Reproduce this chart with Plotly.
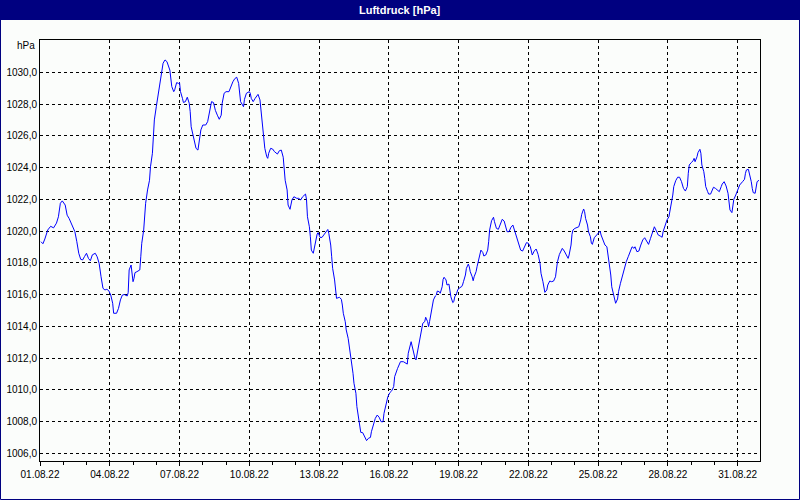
import pandas as pd
import plotly.graph_objects as go

# ---- data: hours since 01.08.2022 00:00 and air pressure [hPa] ----
h1 = [1, 3, 5, 8, 11, 14, 17, 19, 21, 23, 26, 28, 30, 32, 36, 38, 40, 42, 44, 46, 48, 50, 52, 54, 57, 59, 61, 63,
      65, 67, 69, 71, 73, 75, 76, 79, 81, 83, 85, 87, 90, 91, 92, 94, 96, 97, 98, 100, 103, 104, 105, 107, 108, 109,
      111, 113, 114, 116, 117, 118, 120, 121]
p1 = [1019.33, 1019.2, 1019.5, 1020.07, 1020.3, 1020.2, 1020.5, 1020.9, 1021.75, 1021.9, 1021.64, 1021.0, 1020.8,
      1020.5, 1019.96, 1019.33, 1018.6, 1018.22, 1018.18, 1018.4, 1018.6, 1018.28, 1018.13, 1018.5, 1018.6, 1018.38,
      1017.97, 1017.12, 1016.39, 1016.29, 1016.33, 1016.24, 1015.97, 1015.45, 1014.82, 1014.82, 1015.13, 1015.66,
      1015.97, 1016.0, 1015.91, 1016.12, 1017.55, 1017.86, 1016.81, 1017.02, 1017.38, 1017.44, 1017.55, 1018.38,
      1019.23, 1020.07, 1020.9, 1021.75, 1022.59, 1023.2, 1024.05, 1024.9, 1025.94, 1027.0, 1027.83, 1028.26]

h2 = [124, 125, 127, 129, 131, 134, 135, 136, 138, 139, 141, 143, 144, 145, 147, 148, 150, 152, 154, 155, 156, 158,
      159, 161, 163, 164, 166, 168, 171, 173, 175, 177, 179, 181, 183, 185, 187, 188, 190, 192, 195, 197, 199, 201,
      203, 205, 206, 207, 209, 210, 211, 213, 216, 217, 218, 220, 222, 225, 227, 228, 229, 231, 232, 234, 235, 236,
      238, 240, 242, 245, 247, 249, 251]
p2 = [1029.3, 1030.04, 1030.57, 1030.78, 1030.67, 1030.14, 1029.6, 1029.1, 1028.78, 1028.9, 1029.35, 1029.3,
      1029.35, 1028.78, 1028.36, 1028.1, 1028.15, 1028.43, 1028.05, 1027.52, 1026.57, 1025.94, 1025.63, 1025.21,
      1025.1, 1025.63, 1026.37, 1026.68, 1026.68, 1026.89, 1027.52, 1028.15, 1028.1, 1027.6, 1027.3, 1027.04,
      1027.3, 1028.05, 1028.68, 1028.78, 1028.78, 1029.1, 1029.4, 1029.6, 1029.69, 1029.3, 1028.68, 1028.15,
      1027.94, 1027.83, 1028.3, 1028.68, 1028.78, 1028.68, 1028.36, 1028.15, 1028.36, 1028.61, 1028.26, 1027.63,
      1026.79, 1025.94, 1025.21, 1024.68, 1024.58, 1024.9, 1025.21, 1025.17, 1025.0, 1024.85, 1025.06, 1025.1,
      1024.65]

h3 = [253, 255, 256, 258, 260, 262, 265, 267, 269, 271, 274, 275, 276, 278, 279, 280, 282, 283, 284, 286, 287, 289,
      291, 293, 295, 297, 298, 300, 301, 302, 304, 305, 306, 309, 311, 312, 313, 315, 316, 318, 319, 320, 322, 323,
      324, 326, 327, 329, 330, 331, 333, 335, 337, 339, 341, 342, 344, 346, 348, 350, 352, 354, 355, 357, 359, 361,
      363, 365, 366, 369, 371]
p3 = [1023.2, 1022.59, 1021.64, 1021.37, 1021.96, 1022.16, 1022.06, 1022.06, 1021.96, 1022.16, 1022.33, 1022.0,
      1020.9, 1020.27, 1019.64, 1018.8, 1018.6, 1018.91, 1019.33, 1019.81, 1019.9, 1019.6, 1019.6, 1019.75,
      1019.96, 1020.1, 1019.86, 1019.12, 1018.38, 1017.65, 1016.92, 1016.18, 1015.76, 1015.83, 1015.7, 1015.34,
      1014.82, 1014.29, 1013.77, 1013.24, 1012.82, 1012.5, 1011.77, 1011.04, 1010.41, 1009.78, 1008.94, 1008.1,
      1007.57, 1007.32, 1007.3, 1007.0, 1006.8, 1006.95, 1007.0, 1007.36, 1007.78, 1008.2, 1008.41, 1008.27,
      1007.99, 1007.99, 1008.52, 1009.15, 1009.57, 1009.82, 1009.94, 1010.2, 1010.83, 1011.35, 1011.71]

h4 = [372, 375, 377, 379, 380, 382, 383, 384, 386, 387, 388, 390, 391, 393, 394, 395, 397, 398, 400, 401, 402, 404,
      405, 406, 408, 409, 410, 412, 413, 415, 416, 417, 419, 420, 422, 423, 424, 426, 427, 428, 430, 431, 433, 435,
      436, 437, 439, 440, 442, 443, 444, 446, 447, 448, 450, 451, 453, 454, 455, 457, 458, 460, 462, 463, 464, 466,
      468, 469, 471, 473, 475, 477, 479, 481, 482, 484, 486, 488, 490, 492, 494, 496]
p4 = [1011.77, 1011.77, 1011.71, 1011.62, 1012.3, 1012.93, 1013.03, 1012.76, 1012.19, 1011.98, 1011.88, 1012.5,
      1012.82, 1013.56, 1013.98, 1014.19, 1014.29, 1014.57, 1014.29, 1013.98, 1014.29, 1014.92, 1015.34, 1015.66,
      1015.91, 1015.97, 1016.22, 1016.18, 1016.08, 1016.49, 1016.96, 1017.09, 1016.92, 1016.6, 1016.66, 1016.29,
      1015.86, 1015.49, 1015.55, 1015.86, 1016.08, 1016.29, 1016.43, 1016.49, 1016.6, 1016.81, 1017.23, 1017.65,
      1017.92, 1017.75, 1017.44, 1017.12, 1016.87, 1017.12, 1017.44, 1017.75, 1018.28, 1018.6, 1018.8, 1018.64,
      1018.43, 1018.49, 1018.8, 1019.33, 1020.07, 1020.65, 1020.87, 1020.59, 1020.17, 1020.11, 1020.49, 1020.74,
      1020.63, 1020.27, 1019.96, 1019.96, 1020.24, 1020.38, 1019.96, 1019.54, 1019.12, 1018.8]

h5 = [498, 500, 502, 504, 506, 508, 510, 512, 514, 516, 517, 519, 520, 521, 523, 524, 526, 528, 530, 532, 533, 534,
      536, 538, 539, 541, 543, 545, 546, 548, 549, 550, 552, 554, 556, 558, 559, 561, 562, 563, 565, 566, 568, 569,
      570, 572, 574, 576, 578, 579, 581, 583, 585, 586, 588, 589, 590, 592, 593, 594, 596, 597, 599, 601, 603, 605,
      607, 609, 611, 613, 614, 616, 618]
p5 = [1018.74, 1019.01, 1019.27, 1019.23, 1019.01, 1018.49, 1018.74, 1018.87, 1018.53, 1017.97, 1017.34, 1016.81,
      1016.43, 1016.14, 1016.29, 1016.6, 1016.85, 1016.81, 1016.85, 1017.12, 1017.61, 1018.07, 1018.53, 1018.87,
      1018.91, 1018.74, 1018.49, 1018.28, 1018.49, 1019.12, 1019.8, 1020.07, 1020.17, 1020.21, 1020.27, 1020.7,
      1021.05, 1021.39, 1021.22, 1020.8, 1020.38, 1019.96, 1019.64, 1019.23, 1019.16, 1019.58, 1019.71, 1019.86,
      1020.0, 1019.75, 1019.44, 1019.12, 1019.01, 1018.6, 1017.86, 1017.23, 1016.49, 1015.86, 1015.55, 1015.45,
      1015.72, 1016.18, 1016.71, 1017.23, 1017.75, 1018.07, 1018.38, 1018.74, 1019.01, 1018.91, 1019.01, 1018.7,
      1018.74]

h6 = [620, 622, 624, 626, 628, 630, 632, 634, 636, 638, 640, 642, 643, 645, 647, 649, 650, 652, 653, 654, 656, 658,
      660, 662, 664, 666, 668, 669, 670, 672, 674, 675, 676, 678, 679, 681, 682, 683, 685, 686, 687, 689, 690, 692,
      693, 695, 697, 699, 701, 703, 704, 706, 708, 710, 711, 712, 714, 715, 716, 718, 720, 722, 725, 727, 728, 729,
      731, 732, 734, 735, 736, 738, 739, 740, 742]
p6 = [1019.12, 1019.44, 1019.58, 1019.37, 1019.16, 1019.54, 1019.9, 1020.27, 1020.02, 1019.75, 1019.69, 1019.61,
      1019.96, 1020.38, 1020.7, 1020.9, 1021.22, 1021.75, 1022.27, 1022.8, 1023.17, 1023.39, 1023.39, 1023.11,
      1022.69, 1022.52, 1022.8, 1023.64, 1024.16, 1024.31, 1024.43, 1024.58, 1024.37, 1024.68, 1024.94, 1025.15,
      1024.9, 1024.16, 1023.74, 1023.32, 1022.8, 1022.48, 1022.33, 1022.33, 1022.48, 1022.76, 1022.69, 1022.59,
      1022.48, 1022.8, 1022.96, 1023.11, 1022.84, 1022.38, 1021.85, 1021.33, 1021.16, 1021.64, 1022.0, 1022.27,
      1022.59, 1022.9, 1023.11, 1023.26, 1023.64, 1023.85, 1023.89, 1023.64, 1023.11, 1022.69, 1022.42, 1022.38,
      1022.69, 1023.11, 1023.2]

x_tick_dates = ["2022-08-01", "2022-08-04", "2022-08-07", "2022-08-10", "2022-08-13", "2022-08-16",
                "2022-08-19", "2022-08-22", "2022-08-25", "2022-08-28", "2022-08-31"]
x_tick_labels = ["01.08.22", "04.08.22", "07.08.22", "10.08.22", "13.08.22", "16.08.22",
                 "19.08.22", "22.08.22", "25.08.22", "28.08.22", "31.08.22"]
y_tick_values = [1006, 1008, 1010, 1012, 1014, 1016, 1018, 1020, 1022, 1024, 1026, 1028, 1030]
y_tick_labels = ["1006,0", "1008,0", "1010,0", "1012,0", "1014,0", "1016,0", "1018,0", "1020,0",
                 "1022,0", "1024,0", "1026,0", "1028,0", "1030,0"]

hours = h1 + h2 + h3 + h4 + h5 + h6
pressure = p1 + p2 + p3 + p4 + p5 + p6
assert len(hours) == len(pressure)
times = pd.Timestamp("2022-08-01") + pd.to_timedelta(hours, unit="h")

# ---- layout geometry (pixels) ----
W, H = 800, 500
L, R, T, B = 40, 760, 40, 461
pw, ph = R - L, B - T


def px(x):
    return (x - L) / pw


def py(y):
    return (B - y) / ph


NAVY = "#000080"
BG = "#fbfdfb"
FONT = "Liberation Sans"

fig = go.Figure(go.Scatter(x=times, y=pressure, mode="lines",
                           line=dict(color="#0000ff", width=1), showlegend=False))

grid = dict(showgrid=True, gridcolor="black", gridwidth=1, griddash="3px,3px")

fig.update_layout(
    width=W, height=H,
    margin=dict(l=L, r=W - R, t=T, b=H - B, pad=0, autoexpand=False),
    paper_bgcolor=BG, plot_bgcolor=BG,
    font=dict(family=FONT, size=10, color="black"),
    xaxis=dict(type="date", range=["2022-08-01 00:00", "2022-08-31 23:00"],
               tickmode="array", tickvals=x_tick_dates, ticktext=x_tick_labels,
               ticks="outside", ticklen=4, tickcolor="black", tickwidth=1,
               showline=True, linecolor="black", linewidth=1, mirror=True,
               zeroline=False, automargin=False,
               tickfont=dict(family=FONT, size=10, color="black"),
               minor=dict(ticks="outside", ticklen=3, tickcolor="black", dtick=86400000,
                          tick0="2022-08-01", showgrid=False),
               **grid),
    yaxis=dict(range=[1005.515, 1032.035], tickmode="array", tickvals=y_tick_values,
               ticktext=y_tick_labels, ticks="", showline=True, linecolor="black",
               linewidth=1, mirror=True, zeroline=False, automargin=False,
               tickfont=dict(family=FONT, size=10, color="black"), **grid),
    shapes=[
        dict(type="rect", xref="paper", yref="paper", x0=px(0), x1=px(W), y0=py(20), y1=py(0),
             fillcolor=NAVY, line=dict(width=0), layer="above"),
        dict(type="rect", xref="paper", yref="paper", x0=px(0.5), x1=px(W - 0.5),
             y0=py(H - 0.5), y1=py(0), line=dict(color=NAVY, width=1), fillcolor="rgba(0,0,0,0)"),
    ],
    annotations=[
        dict(text="<b>Luftdruck [hPa]</b>", xref="paper", yref="paper", x=px(400), y=py(10),
             xanchor="center", yanchor="middle", showarrow=False,
             font=dict(family=FONT, size=11, color="white")),
        dict(text="hPa", xref="paper", yref="paper", x=px(37), y=py(45),
             xanchor="right", yanchor="middle", showarrow=False,
             font=dict(family=FONT, size=10, color="black")),
    ],
)

fig.write_html("out.html", config={"displayModeBar": False},
               post_script="document.body.style.margin='0';document.body.style.padding='0';"
                           "document.body.style.overflow='hidden';")
